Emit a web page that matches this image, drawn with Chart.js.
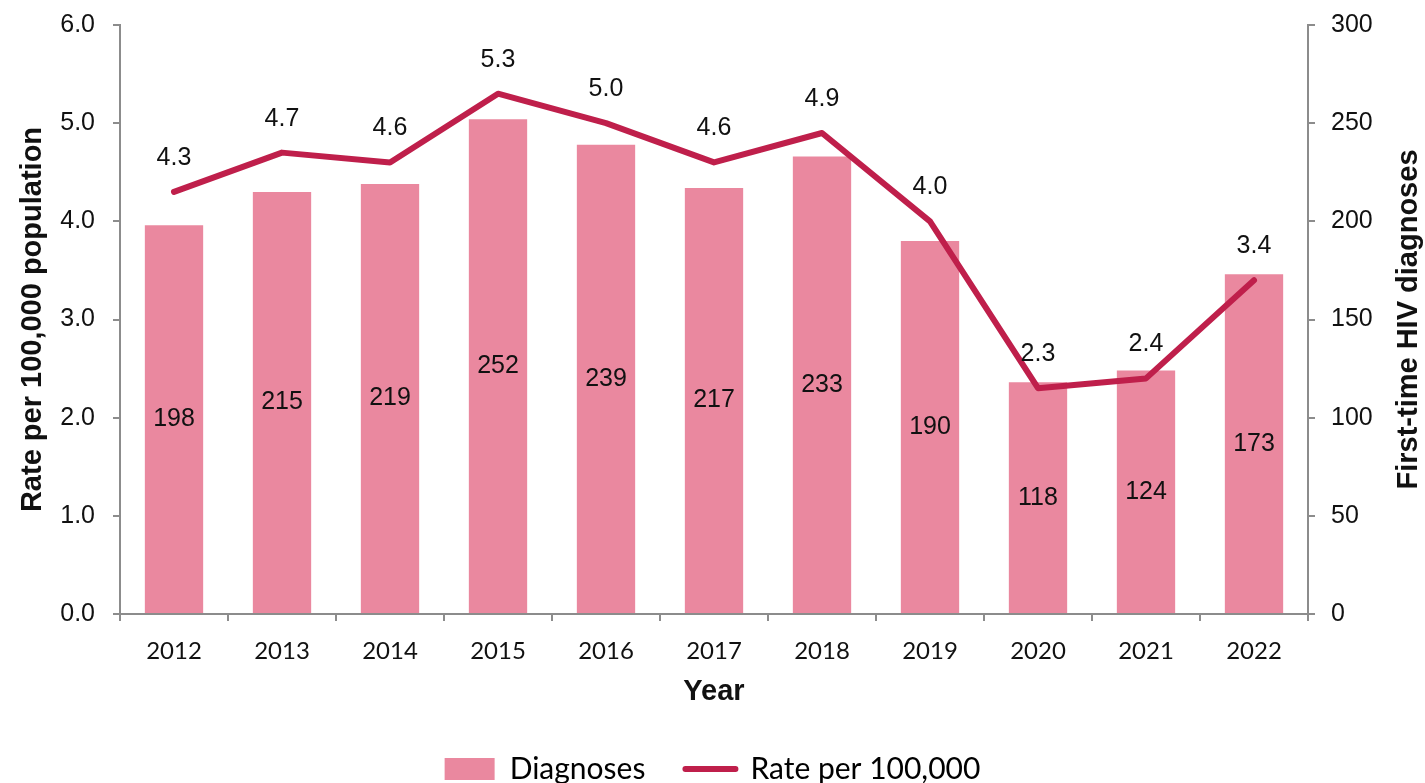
<!DOCTYPE html>
<html>
<head>
<meta charset="utf-8">
<script src="https://cdn.jsdelivr.net/npm/chart.js@4/dist/chart.umd.min.js"></script>
<style>
  html, body { margin: 0; padding: 0; background: #fff; }
  #wrap { width: 1425px; height: 783px; }
</style>
</head>
<body>
<div id="wrap"><canvas id="hivChart"></canvas></div>
<script>
// datos
const years = ['2012', '2013', '2014', '2015', '2016', '2017', '2018', '2019', '2020', '2021', '2022'];
const diagnoses = [198, 215, 219, 252, 239, 217, 233, 190, 118, 124, 173];
const rate = [4.3, 4.7, 4.6, 5.3, 5.0, 4.6, 4.9, 4.0, 2.3, 2.4, 3.4];
const rateTicks = [0, 1, 2, 3, 4, 5, 6];
const diagTicks = [0, 50, 100, 150, 200, 250, 300];

const BAR_COLOR = '#EA889F';
const LINE_COLOR = '#BF1F4B';
const AXIS_COLOR = '#8C8C8C';
const ARIAL = '"Liberation Sans", Arial, sans-serif';
const LATO = 'Lato, "Open Sans", sans-serif';

// etiquetas de valores + titulo del eje derecho
const valueLabels = {
    id: 'valueLabels',
    afterDatasetsDraw(chart) {
        const ctx = chart.ctx;
        ctx.save();
        ctx.font = '25px ' + ARIAL;
        ctx.fillStyle = '#111';
        ctx.textAlign = 'center';
        ctx.textBaseline = 'middle';
        chart.getDatasetMeta(0).data.forEach((bar, i) => {
            ctx.fillText(diagnoses[i], bar.x, (bar.y + bar.base) / 2);
        });
        chart.getDatasetMeta(1).data.forEach((pt, i) => {
            ctx.fillText(rate[i].toFixed(1), pt.x, pt.y - 34);
        });
        const area = chart.chartArea;
        ctx.font = 'bold 29px ' + ARIAL;
        ctx.translate(chart.width - 16, (area.top + area.bottom) / 2);
        ctx.rotate(-Math.PI / 2);
        ctx.fillText('First-time HIV diagnoses', 0, 0);
        ctx.restore();
    }
};

new Chart(document.getElementById('hivChart'), {
    data: {
        labels: years,
        datasets: [
            {
                type: 'bar',
                label: 'Diagnoses',
                data: diagnoses,
                yAxisID: 'y1',
                backgroundColor: BAR_COLOR,
                borderWidth: 0,
                categoryPercentage: 1,
                barPercentage: 0.54,
                order: 2
            },
            {
                type: 'line',
                label: 'Rate per 100,000',
                data: rate,
                yAxisID: 'y',
                borderColor: LINE_COLOR,
                backgroundColor: LINE_COLOR,
                borderWidth: 6,
                borderJoinStyle: 'round',
                borderCapStyle: 'round',
                pointRadius: 0,
                tension: 0,
                order: 1
            }
        ]
    },
    options: {
        responsive: true,
        maintainAspectRatio: false,
        animation: false,
        layout: { padding: { top: 25, left: 0, right: 0, bottom: -11 } },
        plugins: {
            tooltip: { enabled: false },
            legend: {
                position: 'bottom',
                labels: {
                    usePointStyle: true,
                    pointStyleWidth: 50,
                    boxHeight: 22,
                    padding: 40,
                    color: '#111',
                    font: { family: LATO, size: 30 },
                    generateLabels: () => [
                        { text: 'Diagnoses', fillStyle: BAR_COLOR, strokeStyle: BAR_COLOR, lineWidth: 0, pointStyle: 'rect', datasetIndex: 0 },
                        { text: 'Rate per 100,000', fillStyle: LINE_COLOR, strokeStyle: LINE_COLOR, lineWidth: 6, lineCap: 'round', pointStyle: 'line', datasetIndex: 1 }
                    ]
                }
            }
        },
        scales: {
            x: {
                grid: { display: true, drawOnChartArea: false, drawTicks: true, tickLength: 7, color: AXIS_COLOR, lineWidth: 2 },
                border: { color: AXIS_COLOR, width: 2 },
                ticks: { color: '#111', padding: 16, font: { family: LATO, size: 24 } },
                title: { display: true, text: 'Year', color: '#111', padding: { top: 4, bottom: 5 }, font: { family: ARIAL, size: 29, weight: 'bold' } },
                afterFit: s => { s.height = 100; }
            },
            y: {
                position: 'left',
                min: 0, max: 6,
                afterBuildTicks: s => { s.ticks = rateTicks.map(v => ({ value: v })); },
                grid: { drawOnChartArea: false, drawTicks: true, tickLength: 7, color: AXIS_COLOR, lineWidth: 2 },
                border: { color: AXIS_COLOR, width: 2 },
                ticks: { color: '#111', padding: 18, font: { family: ARIAL, size: 25 }, callback: v => v.toFixed(1) },
                title: { display: true, text: 'Rate per 100,000 population', color: '#111', padding: { top: 16, bottom: 0 }, font: { family: ARIAL, size: 29, weight: 'bold' } },
                afterFit: s => { s.width = 120; s.paddingTop = 0; s.paddingBottom = 0; }
            },
            y1: {
                position: 'right',
                min: 0, max: 300,
                afterBuildTicks: s => { s.ticks = diagTicks.map(v => ({ value: v })); },
                grid: { drawOnChartArea: false, drawTicks: true, tickLength: 7, color: AXIS_COLOR, lineWidth: 2 },
                border: { color: AXIS_COLOR, width: 2 },
                ticks: { color: '#111', padding: 16, font: { family: ARIAL, size: 25 } },
                afterFit: s => { s.width = 117; s.paddingTop = 0; s.paddingBottom = 0; }
            }
        }
    },
    plugins: [valueLabels]
});
</script>
</body>
</html>
